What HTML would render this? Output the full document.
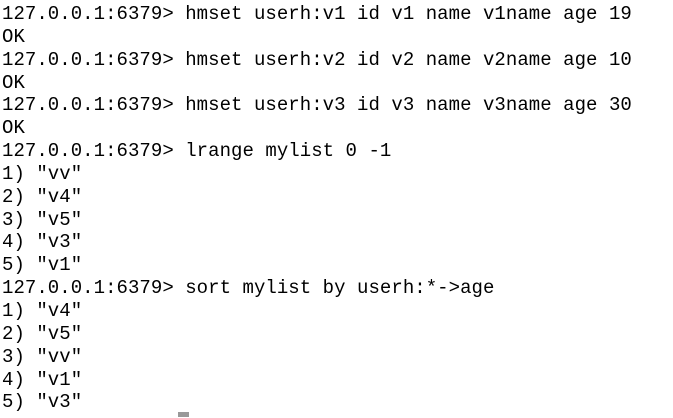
<!DOCTYPE html>
<html><head><style>
html,body{margin:0;padding:0;background:#fff;}
body{width:673px;height:418px;overflow:hidden;position:relative;}
pre{position:absolute;left:2px;top:3px;margin:0;font-family:"Liberation Mono",monospace;font-size:19px;line-height:22.85px;color:#000;letter-spacing:0.05px;}
.cur{position:absolute;left:178px;top:412px;width:11px;height:5px;background:#999;}
</style></head><body>
<pre>127.0.0.1:6379&gt; hmset userh:v1 id v1 name v1name age 19
OK
127.0.0.1:6379&gt; hmset userh:v2 id v2 name v2name age 10
OK
127.0.0.1:6379&gt; hmset userh:v3 id v3 name v3name age 30
OK
127.0.0.1:6379&gt; lrange mylist 0 -1
1) "vv"
2) "v4"
3) "v5"
4) "v3"
5) "v1"
127.0.0.1:6379&gt; sort mylist by userh:*-&gt;age
1) "v4"
2) "v5"
3) "vv"
4) "v1"
5) "v3"</pre>
<div class="cur"></div>
</body></html>
